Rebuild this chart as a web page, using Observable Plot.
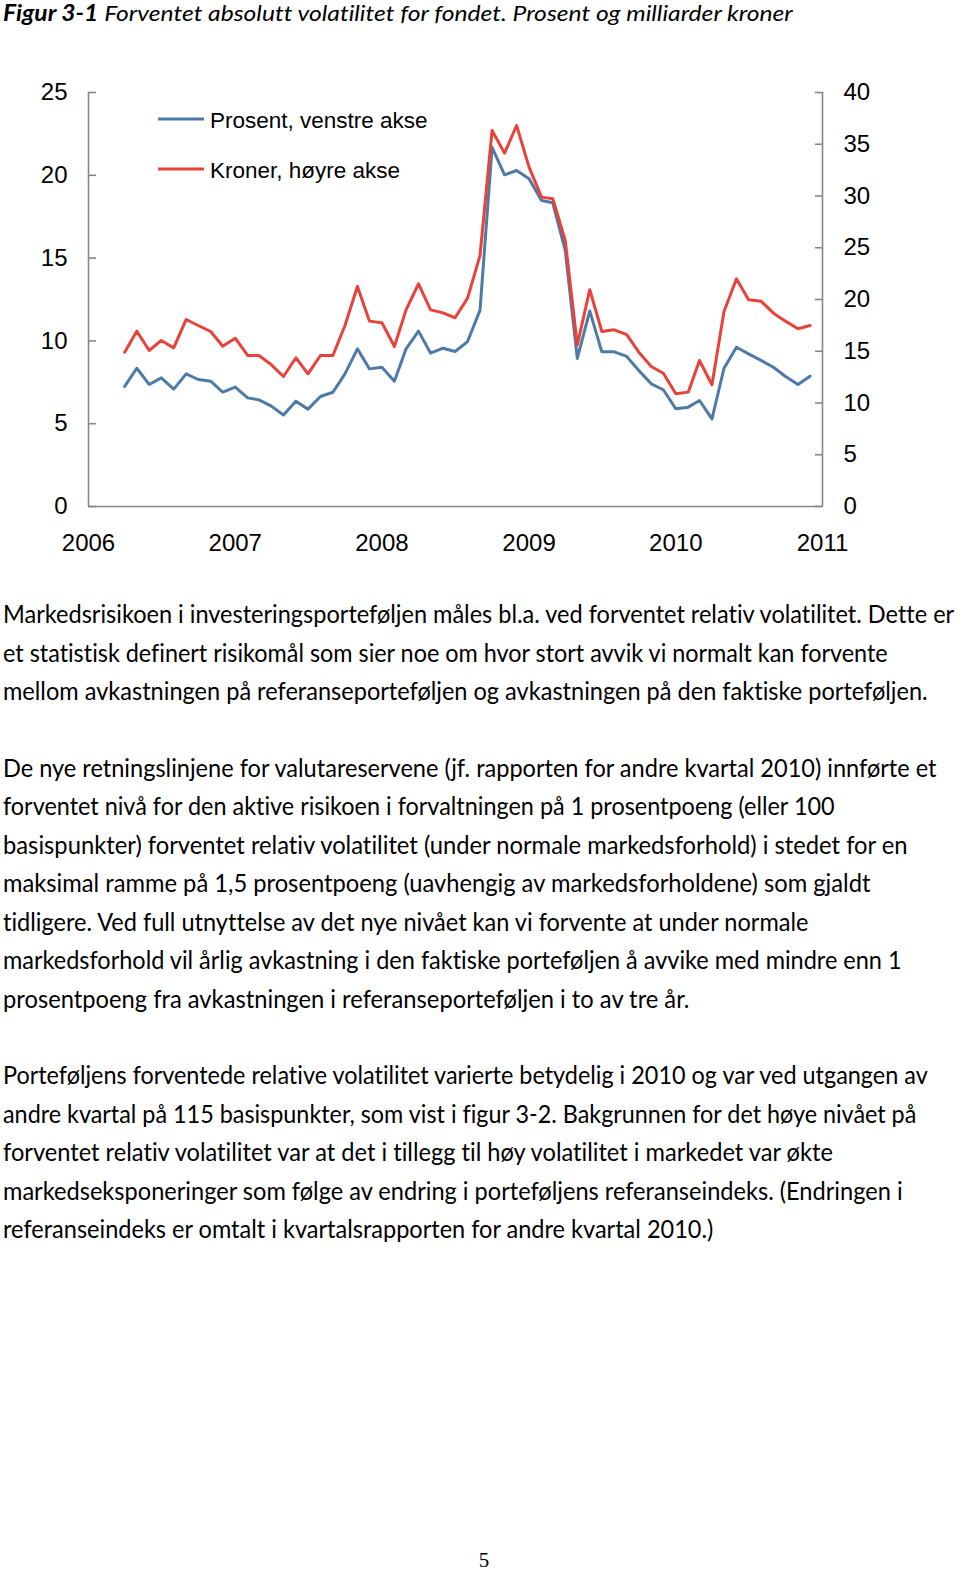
<!DOCTYPE html>
<html>
<head>
<meta charset="utf-8">
<script src="https://cdn.jsdelivr.net/npm/d3@7"></script>
<script src="https://cdn.jsdelivr.net/npm/@observablehq/plot@0.6"></script>
<style>
  html, body { margin: 0; padding: 0; background: #fff; }
  #page { position: relative; width: 960px; height: 1573px; overflow: hidden; background: #fff; }
  #chart { position: absolute; left: 0; top: 0; }
  #overlay { position: absolute; left: 0; top: 0; pointer-events: none; font-variant-ligatures: none; }
</style>
</head>
<body>
<div id="page">
  <div id="chart"></div>
  <svg id="overlay" width="960" height="1573"></svg>
</div>
<script>
// ---- Data ----
const dates = [
  "2006-04","2006-05","2006-06","2006-07","2006-08","2006-09","2006-10","2006-11","2006-12",
  "2007-01","2007-02","2007-03","2007-04","2007-05","2007-06","2007-07","2007-08","2007-09","2007-10","2007-11","2007-12",
  "2008-01","2008-02","2008-03","2008-04","2008-05","2008-06","2008-07","2008-08","2008-09","2008-10","2008-11","2008-12",
  "2009-01","2009-02","2009-03","2009-04","2009-05","2009-06","2009-07","2009-08","2009-09","2009-10","2009-11","2009-12",
  "2010-01","2010-02","2010-03","2010-04","2010-05","2010-06","2010-07","2010-08","2010-09","2010-10","2010-11","2010-12"
];
// Prosent, venstre akse
const prosent = [
  7.25, 8.35, 7.37, 7.77, 7.09, 8.01, 7.67, 7.57, 6.90,
  7.21, 6.56, 6.44, 6.06, 5.53, 6.36, 5.88, 6.64, 6.90, 8.01, 9.52, 8.31,
  8.41, 7.57, 9.52, 10.59, 9.26, 9.56, 9.36, 9.96, 11.86, 21.68, 20.03, 20.29,
  19.79, 18.48, 18.34, 15.46, 8.94, 11.81, 9.34, 9.34, 9.06, 8.21, 7.41, 7.05,
  5.90, 6.00, 6.40, 5.29, 8.35, 9.62, 9.22, 8.82, 8.41, 7.85, 7.37, 7.87
];
// Kroner (milliarder), høyre akse
const kroner = [
  14.91, 16.94, 15.07, 16.04, 15.33, 18.07, 17.49, 16.91, 15.49,
  16.26, 14.59, 14.59, 13.69, 12.56, 14.37, 12.82, 14.59, 14.59, 17.49, 21.26, 17.91,
  17.75, 15.46, 19.00, 21.52, 19.00, 18.71, 18.23, 20.13, 24.25, 36.33, 34.14, 36.81,
  32.79, 29.89, 29.73, 25.70, 15.60, 20.95, 16.91, 17.07, 16.60, 14.91, 13.53, 12.88,
  10.89, 11.05, 14.11, 11.76, 18.84, 22.00, 19.97, 19.84, 18.68, 17.91, 17.17, 17.49
];
const yearTicks = ["2006","2007","2008","2009","2010","2011"];
const leftTicks = [0, 5, 10, 15, 20, 25];
const rightTicks = [0, 5, 10, 15, 20, 25, 30, 35, 40];
const seriesNames = ["Prosent, venstre akse", "Kroner, høyre akse"];

const titleBold = "Figur 3-1";
const titleRest = " Forventet absolutt volatilitet for fondet. Prosent og milliarder kroner";
const paragraphs = [
  [
    "Markedsrisikoen i investeringsporteføljen måles bl.a. ved forventet relativ volatilitet. Dette er",
    "et statistisk definert risikomål som sier noe om hvor stort avvik vi normalt kan forvente",
    "mellom avkastningen på referanseporteføljen og avkastningen på den faktiske porteføljen."
  ],
  [
    "De nye retningslinjene for valutareservene (jf. rapporten for andre kvartal 2010) innførte et",
    "forventet nivå for den aktive risikoen i forvaltningen på 1 prosentpoeng (eller 100",
    "basispunkter) forventet relativ volatilitet (under normale markedsforhold) i stedet for en",
    "maksimal ramme på 1,5 prosentpoeng (uavhengig av markedsforholdene) som gjaldt",
    "tidligere. Ved full utnyttelse av det nye nivået kan vi forvente at under normale",
    "markedsforhold vil årlig avkastning i den faktiske porteføljen å avvike med mindre enn 1",
    "prosentpoeng fra avkastningen i referanseporteføljen i to av tre år."
  ],
  [
    "Porteføljens forventede relative volatilitet varierte betydelig i 2010 og var ved utgangen av",
    "andre kvartal på 115 basispunkter, som vist i figur 3-2. Bakgrunnen for det høye nivået på",
    "forventet relativ volatilitet var at det i tillegg til høy volatilitet i markedet var økte",
    "markedseksponeringer som følge av endring i porteføljens referanseindeks. (Endringen i",
    "referanseindeks er omtalt i kvartalsrapporten for andre kvartal 2010.)"
  ]
];
// right edge of each body line in the page (layout)
const lineRight = [
  [955, 888, 928],
  [937, 835, 908, 871, 809, 902, 690],
  [928, 917, 833, 903, 714]
];
const pageNumber = "5";

// ---- Chart ----
const parse = d3.utcParse("%Y-%m");
const parseY = d3.utcParse("%Y");
const k = 25 / 40; // right-axis units -> left-axis units
const rows = dates.map((d, i) => ({date: parse(d), prosent: prosent[i], kroner: kroner[i]}));
const xTicks = yearTicks.map(parseY);
const blue = "#4d7aa7";
const red = "#e8423b";
const gray = "#878787";
const axisFont = "'Liberation Sans', Arial, Helvetica, sans-serif";

const chart = Plot.plot({
  width: 960,
  height: 580,
  marginLeft: 88,
  marginRight: 138,
  marginTop: 92,
  marginBottom: 74,
  style: {fontFamily: axisFont, fontSize: "24px", color: "#000", background: "transparent", overflow: "visible"},
  x: {type: "utc", domain: [xTicks[0], xTicks[xTicks.length - 1]], label: null},
  y: {domain: [0, 25], label: null},
  marks: [
    Plot.axisX({ticks: xTicks, tickSize: 0, tickPadding: 27, tickFormat: d3.utcFormat("%Y"), label: null, fontSize: 24}),
    Plot.axisY({ticks: leftTicks, anchor: "left", tickSize: 0, tickPadding: 21, label: null, fontSize: 24}),
    Plot.axisY({ticks: leftTicks, anchor: "left", tickSize: -8, tickFormat: () => "", stroke: gray, strokeWidth: 1.6, label: null}),
    Plot.axisY({ticks: rightTicks.map(v => v * k), anchor: "right", tickSize: 0, tickPadding: 21, tickFormat: v => String(Math.round(v / k)), label: null, fontSize: 24}),
    Plot.axisY({ticks: rightTicks.map(v => v * k), anchor: "right", tickSize: -8, tickFormat: () => "", stroke: gray, strokeWidth: 1.6, label: null}),
    Plot.ruleX([xTicks[0], xTicks[xTicks.length - 1]], {stroke: gray, strokeWidth: 1.6}),
    Plot.ruleY([0], {stroke: gray, strokeWidth: 1.6}),
    Plot.lineY(rows, {x: "date", y: "prosent", stroke: blue, strokeWidth: 3}),
    Plot.lineY(rows, {x: "date", y: d => d.kroner * k, stroke: red, strokeWidth: 3})
  ]
});
document.getElementById("chart").appendChild(chart);

// ---- Overlay: legend, title, body text ----
const svg = d3.select("#overlay");

// Legend
const legend = [
  {name: seriesNames[0], color: blue, y: 119},
  {name: seriesNames[1], color: red, y: 169}
];
const lg = svg.append("g");
lg.selectAll("line").data(legend).join("line")
  .attr("x1", 158).attr("x2", 204)
  .attr("y1", d => d.y).attr("y2", d => d.y)
  .attr("stroke", d => d.color).attr("stroke-width", 3);
lg.selectAll("text").data(legend).join("text")
  .attr("x", 210).attr("y", d => d.y + 8.5)
  .attr("font-family", axisFont).attr("font-size", 22.5).attr("fill", "#000")
  .text(d => d.name);

// fit a text element horizontally to [x0, x1] with a scale transform
function fitText(sel, x0, x1, base) {
  const len = sel.node().getComputedTextLength();
  const s = len > 0 ? (x1 - x0) / len : 1;
  sel.attr("x", 0).attr("y", 0)
    .attr("transform", `translate(${x0},${base}) scale(${s},1)`);
}

// Title
const bodyFont = "Lato, 'Open Sans', 'Noto Sans', sans-serif";
const title = svg.append("text")
  .attr("font-family", bodyFont).attr("font-size", 22).attr("font-style", "italic")
  .attr("fill", "#000");
title.append("tspan").attr("font-weight", "bold").text(titleBold);
title.append("tspan").text(titleRest);
fitText(title, 3, 793, 20.7);

// Body text
const lineH = 38.42;
let lineIdx = 0;
paragraphs.forEach((para, p) => {
  para.forEach((line, j) => {
    const base = 623.3 + lineIdx * lineH;
    const t = svg.append("text")
      .attr("font-family", bodyFont).attr("font-size", 25).attr("fill", "#000")
      .text(line);
    fitText(t, 3, lineRight[p][j], base);
    lineIdx++;
  });
  lineIdx++; // blank line between paragraphs
});

// Page number
svg.append("text")
  .attr("x", 484).attr("y", 1567).attr("text-anchor", "middle")
  .attr("font-family", "'Liberation Serif', 'DejaVu Serif', serif").attr("font-size", 21)
  .attr("fill", "#000").text(pageNumber);
</script>
</body>
</html>
